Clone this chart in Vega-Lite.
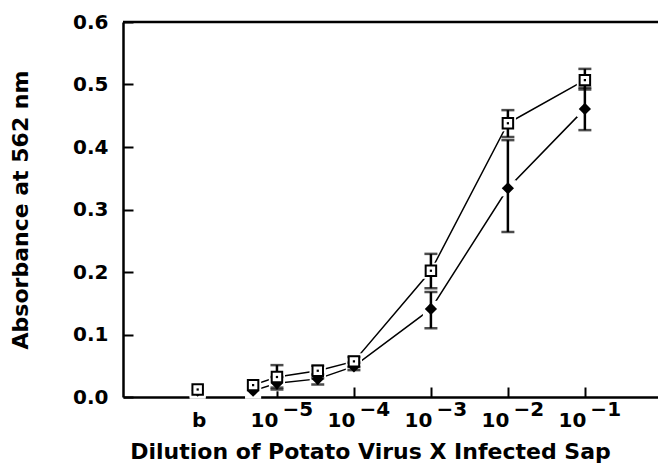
{
  "$schema": "https://vega.github.io/schema/vega-lite/v6.json",
  "autosize": {"type": "none"},
  "padding": {"left": 123, "top": 22, "right": 0, "bottom": 77},
  "width": 535,
  "height": 375,
  "background": "white",
  "config": {
    "view": {"stroke": null},
    "axis": {"domainColor": "black", "domainWidth": 2.5, "tickColor": "black", "tickWidth": 2, "labelColor": "black", "titleColor": "black", "grid": false, "labelFont": "DejaVu Sans", "titleFont": "DejaVu Sans", "labelFontWeight": "bold", "zindex": 1}
  },
  "data": {
    "values": [
      {"dil": -6.03, "series": "A", "abs": 0.012, "lo": null, "hi": null},
      {"dil": -5.31, "series": "A", "abs": 0.019, "lo": null, "hi": null},
      {"dil": -5.0, "series": "A", "abs": 0.032, "lo": 0.015, "hi": 0.051},
      {"dil": -4.47, "series": "A", "abs": 0.042, "lo": 0.03, "hi": 0.05},
      {"dil": -4.0, "series": "A", "abs": 0.057, "lo": 0.048, "hi": 0.064},
      {"dil": -3.0, "series": "A", "abs": 0.202, "lo": 0.174, "hi": 0.229},
      {"dil": -2.0, "series": "A", "abs": 0.438, "lo": 0.416, "hi": 0.459},
      {"dil": -1.0, "series": "A", "abs": 0.507, "lo": 0.492, "hi": 0.525},
      {"dil": -6.03, "series": "B", "abs": 0.01, "lo": null, "hi": null},
      {"dil": -5.31, "series": "B", "abs": 0.01, "lo": null, "hi": null},
      {"dil": -5.0, "series": "B", "abs": 0.022, "lo": 0.012, "hi": 0.032},
      {"dil": -4.47, "series": "B", "abs": 0.029, "lo": 0.02, "hi": 0.036},
      {"dil": -4.0, "series": "B", "abs": 0.049, "lo": 0.043, "hi": 0.055},
      {"dil": -3.0, "series": "B", "abs": 0.141, "lo": 0.11, "hi": 0.168},
      {"dil": -2.0, "series": "B", "abs": 0.334, "lo": 0.264, "hi": 0.411},
      {"dil": -1.0, "series": "B", "abs": 0.461, "lo": 0.427, "hi": 0.495}
    ]
  },
  "resolve": {"axis": {"x": "independent"}},
  "layer": [
    {
      "transform": [{"filter": "datum.dil > -6"}],
      "mark": {"type": "line", "color": "black", "strokeWidth": 1.5},
      "encoding": {
        "x": {
          "field": "dil", "type": "quantitative",
          "scale": {"domain": [-7, -0.05], "nice": false, "zero": false},
          "axis": {
            "orient": "bottom",
            "values": [-6.03, -5, -4, -3, -2, -1],
            "labelExpr": "datum.value < -5.5 ? 'b' : '10'",
            "labelAlign": {"condition": {"test": "datum.value < -5.5", "value": "center"}, "value": "right"},
            "labelOffset": 1,
            "labelFontSize": 20,
            "labelPadding": 23,
            "labelBaseline": "top",
            "tickSize": -10,
            "tickOpacity": {"condition": {"test": "datum.value < -5.5", "value": 0}, "value": 1},
            "title": "Dilution of Potato Virus X Infected Sap",
            "titleFontSize": 22,
            "titleFontWeight": "bold",
            "titleX": 247,
            "titleY": 61,
            "titleBaseline": "alphabetic"
          }
        },
        "y": {
          "field": "abs", "type": "quantitative",
          "scale": {"domain": [0, 0.6], "nice": false},
          "axis": {
            "values": [0, 0.1, 0.2, 0.3, 0.4, 0.5, 0.6],
            "format": ".1f",
            "tickSize": -10,
            "labelFontSize": 20,
            "labelPadding": 25,
            "title": "Absorbance at 562 nm",
            "titleFontSize": 22,
            "titleFontWeight": "bold",
            "titlePadding": 40
          }
        },
        "detail": {"field": "series"}
      }
    },
    {
      "data": {"values": [{}]},
      "mark": {"type": "rule", "color": "black", "strokeWidth": 2.5},
      "encoding": {"y": {"datum": 0.6, "type": "quantitative"}}
    },
    {
      "mark": {"type": "point", "shape": "square", "filled": true, "color": "white", "size": 260, "opacity": 1},
      "encoding": {
        "x": {"field": "dil", "type": "quantitative", "axis": null},
        "y": {"field": "abs", "type": "quantitative"}
      }
    },
    {
      "transform": [{"filter": "datum.lo != null"}],
      "mark": {"type": "rule", "color": "black", "strokeWidth": 2.5},
      "encoding": {
        "x": {"field": "dil", "type": "quantitative", "axis": null},
        "y": {"field": "lo", "type": "quantitative"},
        "y2": {"field": "hi"}
      }
    },
    {
      "transform": [{"filter": "datum.lo != null"}],
      "mark": {"type": "tick", "orient": "horizontal", "color": "black", "size": 13, "thickness": 2.5},
      "encoding": {
        "x": {"field": "dil", "type": "quantitative", "axis": null},
        "y": {"field": "lo", "type": "quantitative"}
      }
    },
    {
      "transform": [{"filter": "datum.lo != null"}],
      "mark": {"type": "tick", "orient": "horizontal", "color": "black", "size": 13, "thickness": 2.5},
      "encoding": {
        "x": {"field": "dil", "type": "quantitative", "axis": null},
        "y": {"field": "hi", "type": "quantitative"}
      }
    },
    {
      "transform": [{"filter": "datum.series == 'B'"}],
      "mark": {"type": "point", "shape": "diamond", "filled": true, "color": "black", "size": 150, "opacity": 1},
      "encoding": {
        "x": {"field": "dil", "type": "quantitative", "axis": null},
        "y": {"field": "abs", "type": "quantitative"}
      }
    },
    {
      "transform": [{"filter": "datum.series == 'A'"}],
      "mark": {"type": "point", "shape": "square", "filled": true, "fill": "white", "stroke": "black", "strokeWidth": 2, "size": 110, "opacity": 1},
      "encoding": {
        "x": {
          "field": "dil", "type": "quantitative",
          "axis": {
            "orient": "bottom",
            "values": [-5, -4, -3, -2, -1],
            "labelExpr": "'−' + abs(datum.value)",
            "labelAlign": "left",
            "labelOffset": 5,
            "labelFontSize": 20,
            "labelPadding": 2,
            "labelBaseline": "top",
            "ticks": false,
            "domain": false,
            "title": null
          }
        },
        "y": {"field": "abs", "type": "quantitative"}
      }
    },
    {
      "transform": [{"filter": "datum.series == 'A'"}],
      "mark": {"type": "point", "shape": "square", "filled": true, "color": "black", "size": 5, "opacity": 1},
      "encoding": {
        "x": {"field": "dil", "type": "quantitative", "axis": null},
        "y": {"field": "abs", "type": "quantitative"}
      }
    }
  ]
}
